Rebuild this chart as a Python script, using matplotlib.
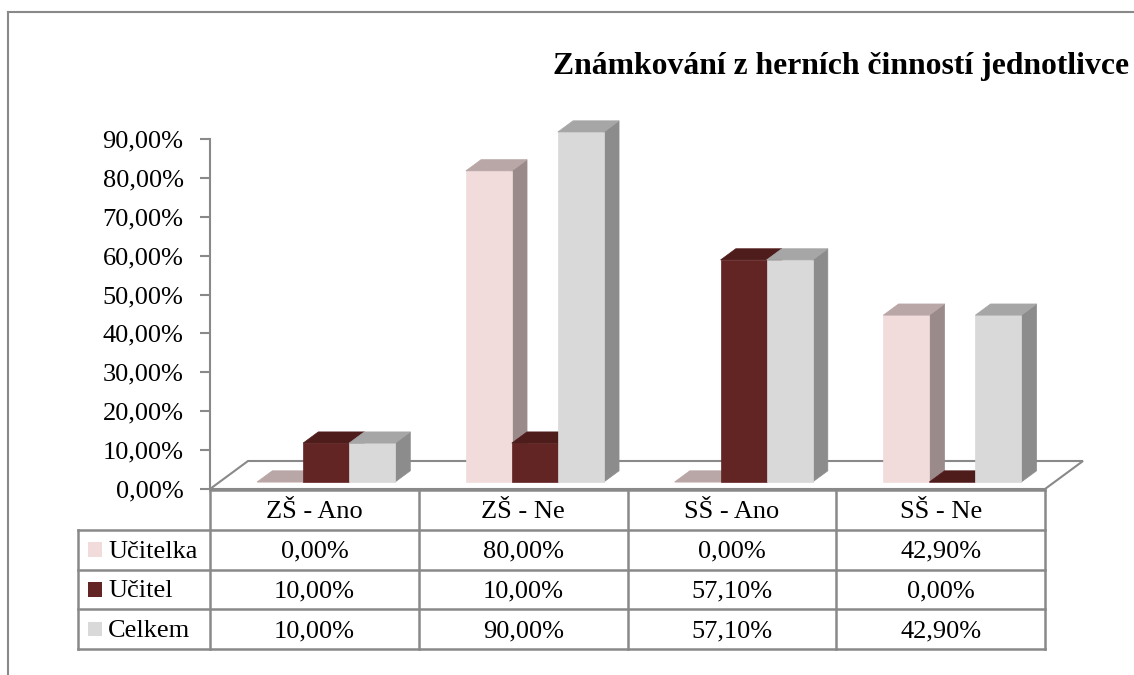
import numpy as np
import matplotlib
matplotlib.use('Agg')
import matplotlib.pyplot as plt
from matplotlib.patches import Polygon, Rectangle
from matplotlib.lines import Line2D

plt.rcParams['font.family'] = ['Liberation Serif', 'DejaVu Serif']

title = 'Známkování z herních činností jednotlivce'
categories = ['ZŠ - Ano', 'ZŠ - Ne', 'SŠ - Ano', 'SŠ - Ne']
series = ['Učitelka', 'Učitel', 'Celkem']
ucitelka = [0.0, 80.0, 0.0, 42.9]
ucitel = [10.0, 10.0, 57.1, 0.0]
celkem = [10.0, 90.0, 57.1, 42.9]
yticks = [0, 10, 20, 30, 40, 50, 60, 70, 80, 90]

# front, top, side colours per series
face_cols = [('#F2DCDB', '#B9A6A6', '#9A8A8A'),
             ('#632523', '#4E1C1B', '#471918'),
             ('#D9D9D9', '#A6A6A6', '#8C8C8C')]
grid_col = '#898989'

W, H = 1134, 675
fig = plt.figure(figsize=(W / 100, H / 100), dpi=100)

def fx(px):
    return px / W

def fy(py):
    return 1 - py / H

# chart frame (cropped at right / bottom)
fig.add_artist(Line2D([fx(8), fx(8)], [fy(12), 0], color=grid_col, lw=1.5))
fig.add_artist(Line2D([fx(8), 1], [fy(12), fy(12)], color=grid_col, lw=1.5))

fig.text(fx(553), fy(74), title, fontsize=22.8, fontweight='bold', va='baseline', ha='left')

# plot area: x in category units, y in percent
ax = fig.add_axes([fx(210), fy(489), fx(1045) - fx(210), fy(139) - fy(489)])
ax.set_xlim(0, 4)
ax.set_ylim(0, 90)
ax.patch.set_visible(False)
for s in ['top', 'right', 'bottom']:
    ax.spines[s].set_visible(False)
ax.spines['left'].set_color(grid_col)
ax.spines['left'].set_linewidth(1.5)
ax.set_xticks([])
ax.set_yticks(yticks)
ax.set_yticklabels([('%.2f' % v).replace('.', ',') + '%' for v in yticks], fontsize=19)
ax.tick_params(axis='y', length=7, width=1.5, color=grid_col, pad=12)

# depth vector of the floor, in data units
px_x = 835 / 4.0
px_y = 350 / 90.0
DX = 38 / px_x
DY = 28 / px_y

floor = Polygon([(0, 0), (4, 0), (4 + DX, DY), (DX, DY)], closed=True,
                facecolor='white', edgecolor=grid_col, lw=1.5, clip_on=False, zorder=1)
ax.add_patch(floor)

bw = 0.2204
start = 0.18
f0, f1 = 0.25, 0.65
data = [ucitelka, ucitel, celkem]

z = 2
for ci in range(len(categories)):
    for si, vals in enumerate(data):
        h = vals[ci]
        x0 = ci + start + si * bw + f0 * DX
        y0 = f0 * DY
        ddx = (f1 - f0) * DX
        ddy = (f1 - f0) * DY
        fc, tc, sc = face_cols[si]
        front = [(x0, y0), (x0 + bw, y0), (x0 + bw, y0 + h), (x0, y0 + h)]
        top = [(x0, y0 + h), (x0 + bw, y0 + h), (x0 + bw + ddx, y0 + h + ddy), (x0 + ddx, y0 + h + ddy)]
        side = [(x0 + bw, y0), (x0 + bw + ddx, y0 + ddy), (x0 + bw + ddx, y0 + h + ddy), (x0 + bw, y0 + h)]
        for pts, col in [(side, sc), (front, fc), (top, tc)]:
            ax.add_patch(Polygon(pts, closed=True, facecolor=col, edgecolor=col,
                                 lw=0.5, clip_on=False, zorder=z))
        z += 1

# data table
lab_w = (210 - 78) / px_x
tab = fig.add_axes([fx(78), fy(649), fx(1045) - fx(78), fy(490) - fy(649)])
tab.set_xlim(-lab_w, 4)
tab.set_ylim(4, 0)
tab.axis('off')
lk = dict(color=grid_col, lw=1.8, clip_on=False)
tab.plot([0, 4], [0, 0], **lk)
for r in [1, 2, 3, 4]:
    tab.plot([-lab_w, 4], [r, r], **lk)
for c in range(5):
    tab.plot([c, c], [0, 4], **lk)
tab.plot([-lab_w, -lab_w], [1, 4], **lk)

for ci, cat in enumerate(categories):
    tab.text(ci + 0.5, 0.55, cat, ha='center', va='center', fontsize=19)
    for si, vals in enumerate(data):
        tab.text(ci + 0.5, si + 1.55, ('%.2f' % vals[ci]).replace('.', ',') + '%',
                 ha='center', va='center', fontsize=19)

sq = 14 / px_x
for si, name in enumerate(series):
    tab.add_patch(Rectangle((-lab_w + 10 / px_x, si + 1.5 - 0.18), sq, 0.36,
                            facecolor=face_cols[si][0], edgecolor='none'))
    tab.text(-lab_w + 30 / px_x, si + 1.55, name, ha='left', va='center', fontsize=19)

fig.savefig('out.png', dpi=100)
